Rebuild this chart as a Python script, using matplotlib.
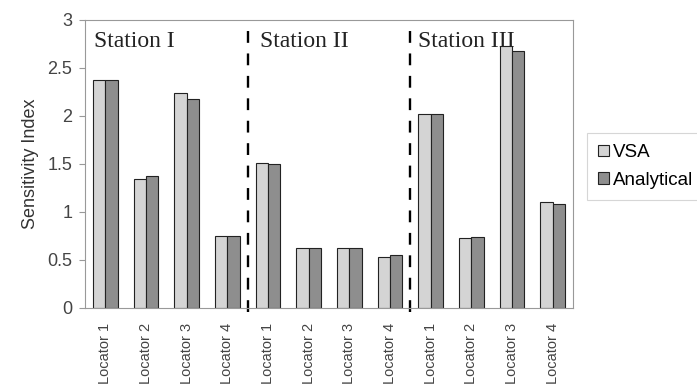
import matplotlib
matplotlib.use("Agg")
import matplotlib.pyplot as plt
import numpy as np

categories = ["Locator 1", "Locator 2", "Locator 3", "Locator 4"] * 3
stations = ["Station I", "Station II", "Station III"]
vsa = [2.37, 1.34, 2.24, 0.75, 1.51, 0.63, 0.63, 0.53, 2.02, 0.73, 2.73, 1.10]
analytical = [2.37, 1.38, 2.18, 0.75, 1.50, 0.63, 0.63, 0.55, 2.02, 0.74, 2.68, 1.08]
yticks = [0, 0.5, 1, 1.5, 2, 2.5, 3]
ytick_labels = ["0", "0.5", "1", "1.5", "2", "2.5", "3"]

fig = plt.figure(figsize=(6.97, 3.9), dpi=100)
ax = fig.add_axes([85/697, 1 - 308/390, (573-85)/697, (308-20)/390])

x = np.arange(len(categories))
w = 0.3
ax.bar(x - w/2, vsa, w, color="#d4d4d4", edgecolor="#222222", linewidth=0.8, label="VSA")
ax.bar(x + w/2, analytical, w, color="#8e8e8e", edgecolor="#222222", linewidth=0.8, label="Analytical")

ax.set_xlim(-0.5, len(categories) - 0.5)
ax.set_ylim(0, 3)
ax.set_yticks(yticks)
ax.set_yticklabels(ytick_labels, fontfamily="Liberation Sans", fontsize=13, color="#444444")
ax.set_xticks(x)
ax.set_xticklabels(categories, rotation=90, fontfamily="Liberation Sans", fontsize=10.5, color="#444444")
ax.tick_params(axis="y", length=4, width=0.8, color="#999999", pad=5)
ax.tick_params(axis="x", length=0, pad=11)
ax.set_ylabel("Sensitivity Index", fontfamily="Liberation Sans", fontsize=13, color="#333333", labelpad=6)
for s in ax.spines.values():
    s.set_color("#999999")
    s.set_linewidth(0.8)

for b in [3.5, 7.5]:
    ax.plot([b, b], [-0.045, 3.0], color="black", linestyle=(0, (5, 4.5)), linewidth=1.7, clip_on=False)

offsets = [0.22, 0.3, 0.2]
for i, name in enumerate(stations):
    ax.text(4*i - 0.5 + offsets[i], 2.78, name, fontfamily="Liberation Serif", fontsize=17,
            va="center", ha="left", color="#222222")

leg = fig.legend(loc="upper left", bbox_to_anchor=(587/697, 1 - 133/390), frameon=True,
                 prop={"family": "Liberation Sans", "size": 13.5}, handlelength=0.55, handleheight=0.55,
                 handletextpad=0.25, borderpad=0.6, fancybox=False, labelspacing=0.55,
                 borderaxespad=0)
leg.get_frame().set_edgecolor("#cccccc")
leg.get_frame().set_linewidth(0.8)
leg._legend_box.align = "left"

fig.savefig("out.png", dpi=100)
